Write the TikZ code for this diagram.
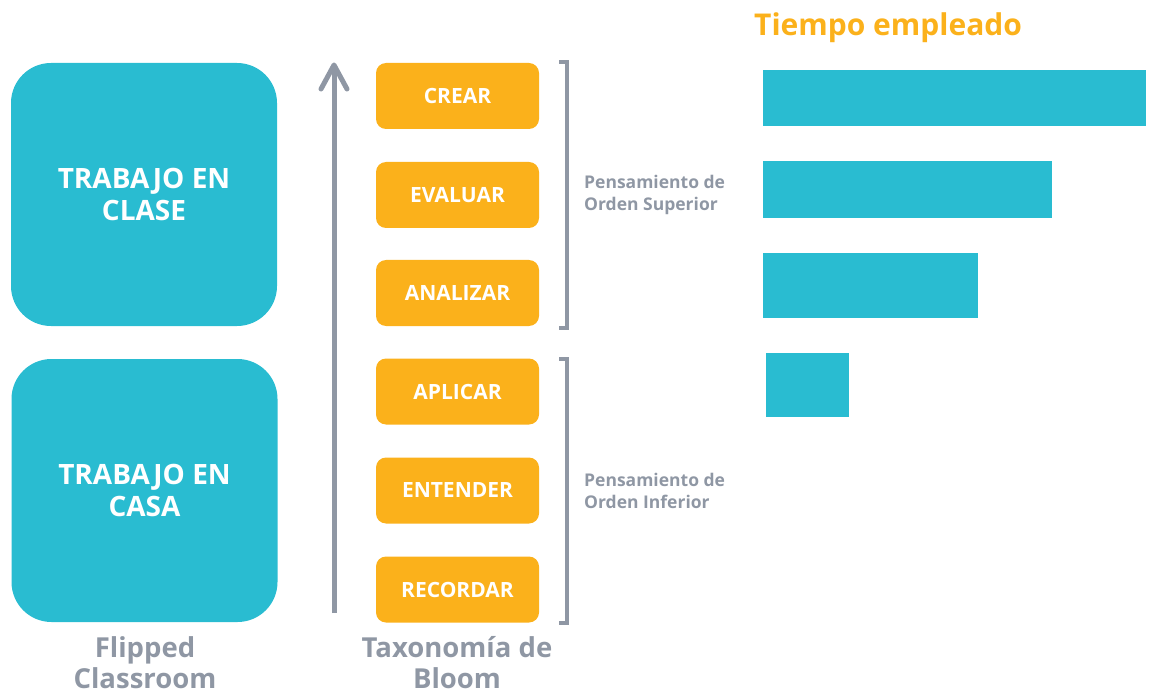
\documentclass[tikz,border=0pt]{standalone}
\usepackage{fontspec}
\setmainfont{Open Sans}
\definecolor{tealc}{HTML}{29BCD1}
\definecolor{orangec}{HTML}{FBB11B}
\definecolor{greyc}{HTML}{8F97A4}
\begin{document}
\begin{tikzpicture}[x=1pt,y=-1pt,
  bigbox/.style={fill=tealc, draw=none, rounded corners=40pt, minimum width=266pt, minimum height=263pt, text=white, align=center, font=\fontsize{28}{32}\selectfont\bfseries, inner sep=0pt},
  levelbox/.style={fill=orangec, draw=none, rounded corners=10pt, minimum width=163pt, minimum height=66pt, text=white, font=\fontsize{21}{24}\selectfont\bfseries, inner sep=0pt},
  bar/.style={fill=tealc, draw=none},
  caption/.style={text=greyc, align=center, font=\fontsize{27.5}{31}\selectfont\bfseries, inner sep=0pt},
  sidelabel/.style={text=greyc, align=left, anchor=west, font=\fontsize{17.5}{22}\selectfont\bfseries, inner sep=0pt},
  greyline/.style={draw=greyc, line width=4.5pt}
]
\useasboundingbox (0,0) rectangle (1149,695);
% left boxes
\node[bigbox] (clase) at (144,194.5) {TRABAJO EN\\CLASE};
\node[bigbox] (casa) at (144.5,490.5) {TRABAJO EN\\CASA};
\node[caption] (flipped) at (145,663) {Flipped\\Classroom};
% arrow
\coordinate (abot) at (334,613);
\coordinate (atop) at (334,65);
\coordinate (al) at (321,89);
\coordinate (ar) at (347,89);
\draw[greyline, line width=5pt] (abot) -- (atop);
\draw[greyline, line width=5pt, line cap=round, line join=round] (al) -- (atop) -- (ar);
% levels
\node[levelbox] (crear) at (457.5,96) {CREAR};
\node[levelbox] (evaluar) at (457.5,195) {EVALUAR};
\node[levelbox] (analizar) at (457.5,293) {ANALIZAR};
\node[levelbox] (aplicar) at (457.5,391.5) {APLICAR};
\node[levelbox] (entender) at (457.5,490.5) {ENTENDER};
\node[levelbox] (recordar) at (457.5,589.5) {RECORDAR};
\node[caption] (bloom) at (457,663) {Taxonomía de\\Bloom};
% brackets
\draw[greyline] (559,62) -- (567,62) -- (567,328) -- (559,328);
\draw[greyline] (559,359) -- (567,359) -- (567,623) -- (559,623);
\node[sidelabel] (sup) at (584,195) {Pensamiento de\\Orden Superior};
\node[sidelabel] (inf) at (584,490.5) {Pensamiento de\\Orden Inferior};
% chart
\node[text=orangec, font=\fontsize{30}{34}\selectfont\bfseries, anchor=west, inner sep=0pt] (title) at (754,27.5) {Tiempo empleado};
\path[bar] (763,70) rectangle (1146,126);
\path[bar] (763,161) rectangle (1052,218);
\path[bar] (763,253) rectangle (978,318);
\path[bar] (766,353) rectangle (849,417);
\end{tikzpicture}
\end{document}
